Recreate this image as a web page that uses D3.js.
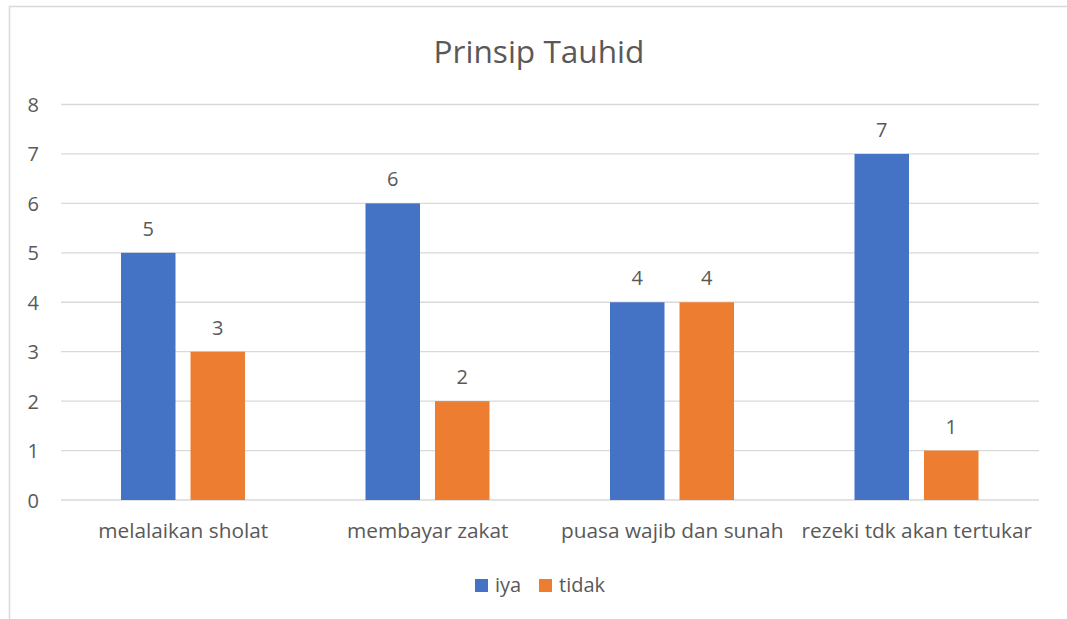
<!DOCTYPE html>
<html><head><meta charset="utf-8">
<script src="https://cdn.jsdelivr.net/npm/d3@7"></script>
<style>
body{margin:0;background:#fff;}
text{font-family:"Open Sans",sans-serif;fill:#595959;}
</style></head>
<body><svg id="c" width="1067" height="619"></svg>
<script>
const categories = ["melalaikan sholat","membayar zakat","puasa wajib dan sunah","rezeki tdk akan tertukar"];
const seriesNames = ["iya","tidak"];
const iyaValues = [5,6,4,7];
const tidakValues = [3,2,4,1];
const yTicks = [0,1,2,3,4,5,6,7,8];
const colors = ["#4472C4","#ED7D31"];
const chartTitle = "Prinsip Tauhid";

(function(){
const svg = d3.select("#c");
svg.append("rect").attr("x",9.5).attr("y",6.5).attr("width",1080).attr("height",640)
  .attr("fill","none").attr("stroke","#d9d9d9").attr("stroke-width",1.5);

const pL=61, pR=1039, pT=104.5, pB=500;
const y = d3.scaleLinear().domain([0,8]).range([pB,pT]);
const x0 = d3.scaleBand().domain(categories).range([pL,pR]);
const x1 = d3.scaleBand().domain(seriesNames).range([60,184]).paddingInner(0.216);

svg.append("g").selectAll("line").data(yTicks).join("line")
  .attr("x1",pL).attr("x2",pR).attr("y1",d=>y(d)).attr("y2",d=>y(d))
  .attr("stroke","#d9d9d9").attr("stroke-width",1.3);
svg.append("g").selectAll("text").data(yTicks).join("text")
  .attr("x",39).attr("y",d=>y(d)+7.5).attr("text-anchor","end")
  .style("font-size","20px").text(d=>d);

const data = seriesNames.map((s,i)=>({s, vals:[iyaValues,tidakValues][i], c:colors[i]}));
const g = svg.append("g");
data.forEach(ser=>{
  g.append("g").selectAll("rect").data(categories).join("rect")
    .attr("x",(c)=>x0(c)+x1(ser.s)).attr("width",x1.bandwidth())
    .attr("y",(c,i)=>y(ser.vals[i])).attr("height",(c,i)=>pB-y(ser.vals[i]))
    .attr("fill",ser.c);
  g.append("g").selectAll("text").data(categories).join("text")
    .attr("x",(c)=>x0(c)+x1(ser.s)+x1.bandwidth()/2)
    .attr("y",(c,i)=>y(ser.vals[i])-17).attr("text-anchor","middle")
    .style("font-size","20px").text((c,i)=>ser.vals[i]);
});

svg.append("g").selectAll("text").data(categories).join("text")
  .attr("x",c=>x0(c)+x0.bandwidth()/2).attr("y",538).attr("text-anchor","middle")
  .style("font-size","20.8px").text(c=>c);

svg.append("text").attr("x",539).attr("y",63).attr("text-anchor","middle")
  .style("font-size","31.6px").text(chartTitle);

const legX=[475,539];
seriesNames.forEach((s,i)=>{
  svg.append("rect").attr("x",legX[i]).attr("y",579).attr("width",13).attr("height",13).attr("fill",colors[i]);
  svg.append("text").attr("x",legX[i]+20).attr("y",592).style("font-size","20px").text(s);
});
})();
</script></body></html>
